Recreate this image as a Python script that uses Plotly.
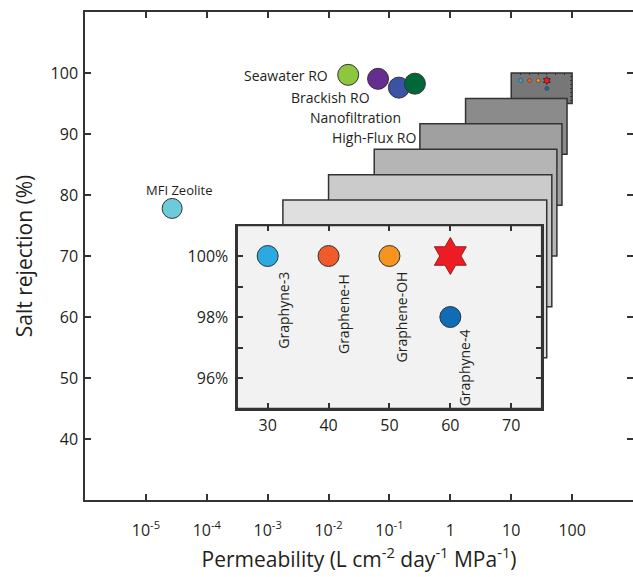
import math
import plotly.graph_objects as go

# ---------------- data ----------------
membrane_names = ["Seawater RO", "Brackish RO", "Nanofiltration", "High-Flux RO"]
membrane_perm = [0.021, 0.065, 0.143, 0.262]
membrane_rej = [99.7, 99.05, 97.6, 98.25]
membrane_colors = ["#8DC63F", "#662D91", "#3A53A4", "#006838"]

zeolite_names = ["MFI Zeolite"]
zeolite_perm = [2.7e-5]
zeolite_rej = [77.8]
zeolite_colors = ["#6CCBDB"]

graphene_names = ["Graphyne-3", "Graphene-H", "Graphene-OH", "Graphyne-4"]
graphene_perm = [30, 40, 50, 60]
graphene_rej = [100, 100, 100, 98]
graphene_colors = ["#29ABE2", "#F15A29", "#F7941D", "#0F6DB5"]

star_perm = [60]
star_rej = [100]

x_tickvals = [1e-5, 1e-4, 1e-3, 1e-2, 1e-1, 1, 10, 100]
x_ticktext = ["10<sup>-5</sup>", "10<sup>-4</sup>", "10<sup>-3</sup>", "10<sup>-2</sup>",
              "10<sup>-1</sup>", "1", "10", "100"]
y_tickvals = [40, 50, 60, 70, 80, 90, 100]

inset_x_tickvals = [30, 40, 50, 60, 70]
inset_y_tickvals = [96, 97, 98, 99, 100]
inset_y_ticktext = ["96%", " ", "98%", " ", "100%"]

# zoom region (main-axis coordinates: log10 permeability, rejection)
zoom_small = dict(lx0=1.0, lx1=2.0, y0=95, y1=100)
zoom_inset = dict(lx0=-3.5, lx1=1.5, y0=45, y1=75)
zoom_fills = ["#777777", "#8B8B8B", "#A0A0A0", "#B5B5B5", "#CBCBCB", "#DFDFDF", "#F2F2F2"]

# label offsets (pixels)
membrane_label_shift = [(-18, -1), (-6, -18.5), (4, -29.5), (4, -53.5)]
graphene_label_shift = [(15.5, -14), (14.5, -16), (12.5, -13), (14.5, -10)]

# ---------------- layout helpers ----------------
X_RANGE = [-6, 3]
Y_RANGE = [30, 110]
FONT = "Open Sans"
LINE = "#333333"
TXT = "#231F20"


def px(lx):
    return (lx - X_RANGE[0]) / (X_RANGE[1] - X_RANGE[0])


def py(y):
    return (y - Y_RANGE[0]) / (Y_RANGE[1] - Y_RANGE[0])


fig = go.Figure()

# stacked zoom rectangles (paper coords)
shapes = []
n = len(zoom_fills) - 1
for i, col in enumerate(zoom_fills):
    t = i / n
    b = {k: zoom_small[k] + t * (zoom_inset[k] - zoom_small[k]) for k in zoom_small}
    shapes.append(dict(type="rect", xref="paper", yref="paper",
                       x0=px(b["lx0"]), x1=px(b["lx1"]), y0=py(b["y0"]), y1=py(b["y1"]),
                       fillcolor=col, line=dict(color=LINE, width=1.5), layer="below"))

# main traces
fig.add_trace(go.Scatter(x=membrane_perm, y=membrane_rej, mode="markers",
                         marker=dict(size=21, color=membrane_colors, line=dict(color=LINE, width=1)),
                         showlegend=False, xaxis="x", yaxis="y"))
fig.add_trace(go.Scatter(x=zeolite_perm, y=zeolite_rej, mode="markers",
                         marker=dict(size=20, color=zeolite_colors, line=dict(color=LINE, width=1)),
                         showlegend=False, xaxis="x", yaxis="y"))

# inset traces
fig.add_trace(go.Scatter(x=graphene_perm, y=graphene_rej, mode="markers",
                         marker=dict(size=21, color=graphene_colors, line=dict(color=LINE, width=1)),
                         showlegend=False, xaxis="x2", yaxis="y2"))
fig.add_trace(go.Scatter(x=star_perm, y=star_rej, mode="markers",
                         marker=dict(symbol="hexagram", size=28, color="#ED1C24",
                                     line=dict(color="#9E1B1F", width=1)),
                         showlegend=False, xaxis="x2", yaxis="y2"))

# mini (thumbnail) traces
fig.add_trace(go.Scatter(x=graphene_perm, y=graphene_rej, mode="markers",
                         marker=dict(size=4, color=graphene_colors, line=dict(color=LINE, width=0.5)),
                         showlegend=False, xaxis="x3", yaxis="y3"))
fig.add_trace(go.Scatter(x=star_perm, y=star_rej, mode="markers",
                         marker=dict(symbol="hexagram", size=6, color="#ED1C24",
                                     line=dict(color="#000000", width=0.5)),
                         showlegend=False, xaxis="x3", yaxis="y3"))

# invisible trace to activate right-side tick axis
fig.add_trace(go.Scatter(x=[None], y=[None], xaxis="x", yaxis="y4", showlegend=False,
                         hoverinfo="skip"))

annotations = []
for name, xv, yv, (dx, dy) in zip(membrane_names, membrane_perm, membrane_rej, membrane_label_shift):
    annotations.append(dict(text=name, x=math.log10(xv), y=yv, xref="x", yref="y",
                            xanchor="right", yanchor="middle", showarrow=False,
                            xshift=dx, yshift=dy, font=dict(family=FONT, size=14, color=TXT)))
for name, xv, yv in zip(zeolite_names, zeolite_perm, zeolite_rej):
    annotations.append(dict(text=name, x=math.log10(xv), y=yv, xref="x", yref="y",
                            xanchor="center", yanchor="middle", showarrow=False,
                            xshift=6.5, yshift=18, font=dict(family=FONT, size=13, color=TXT)))
for name, xv, yv, (dx, dy) in zip(graphene_names, graphene_perm, graphene_rej, graphene_label_shift):
    annotations.append(dict(text=name, x=xv, y=yv, xref="x2", yref="y2", textangle=-90,
                            xanchor="center", yanchor="top", showarrow=False,
                            xshift=dx, yshift=dy, font=dict(family=FONT, size=14, color=TXT)))

axis_common = dict(showline=True, linecolor=LINE, linewidth=1.5, ticks="inside", ticklen=6,
                   tickcolor=LINE, tickwidth=1.5, showgrid=False, zeroline=False,
                   tickfont=dict(family=FONT, size=16, color=TXT))

fig.update_layout(
    width=633, height=577,
    margin=dict(l=85, r=0, t=12, b=77),
    paper_bgcolor="white", plot_bgcolor="rgba(0,0,0,0)",
    shapes=shapes, annotations=annotations, showlegend=False,
    xaxis=dict(type="log", range=X_RANGE, tickvals=x_tickvals, ticktext=x_ticktext,
               ticklabelstandoff=15, mirror="ticks",
               title=dict(text="Permeability (L cm<sup>-2</sup> day<sup>-1</sup> MPa<sup>-1</sup>)",
                          font=dict(family=FONT, size=21, color=TXT), standoff=12),
               **axis_common),
    yaxis=dict(range=Y_RANGE, tickvals=y_tickvals, ticklabelstandoff=2, mirror=False,
               title=dict(text="Salt rejection (%)",
                          font=dict(family=FONT, size=21, color=TXT), standoff=12),
               **axis_common),
    yaxis4=dict(overlaying="y", side="right", range=Y_RANGE, tickvals=y_tickvals,
                showline=False, ticks="inside", ticklen=6, tickcolor=LINE, tickwidth=1.5,
                showticklabels=False, showgrid=False, zeroline=False),
    xaxis2=dict(domain=[px(zoom_inset["lx0"]), px(zoom_inset["lx1"])], anchor="y2",
                range=[25, 75], tickvals=inset_x_tickvals, ticklabelstandoff=2,
                mirror="ticks", **axis_common),
    yaxis2=dict(domain=[py(zoom_inset["y0"]), py(zoom_inset["y1"])], anchor="x2",
                range=[95, 101], tickvals=inset_y_tickvals, ticktext=inset_y_ticktext,
                ticklabelstandoff=4, mirror="ticks", **axis_common),
    xaxis3=dict(domain=[px(zoom_small["lx0"]), px(zoom_small["lx1"])], anchor="y3",
                range=[19, 89], side="top", showline=False, ticks="inside", ticklen=2,
                tickcolor=LINE, dtick=10, showticklabels=False, showgrid=False, zeroline=False),
    yaxis3=dict(domain=[py(zoom_small["y0"]), py(zoom_small["y1"])], anchor="x3",
                range=[94.2, 101.9], side="right", showline=False, ticks="inside", ticklen=2,
                tickcolor=LINE, dtick=1, showticklabels=False, showgrid=False, zeroline=False),
)

fig.write_html("out.html")
